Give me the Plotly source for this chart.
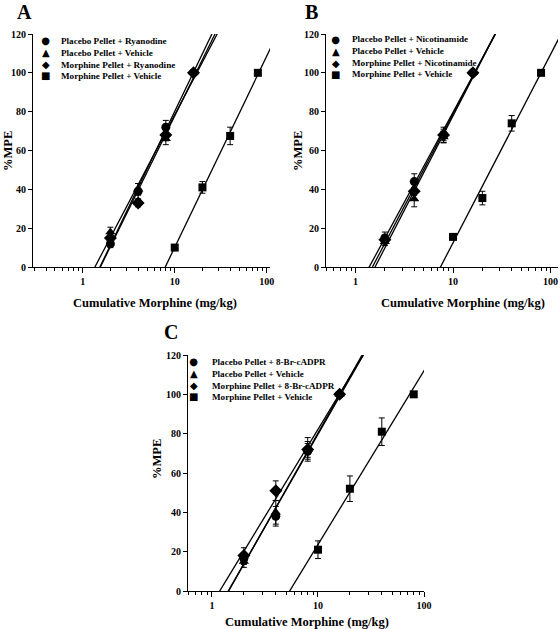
import numpy as np
import plotly.graph_objects as go

W, H = 560, 629

# ---------------- data ----------------
placebo_doses = [2, 4, 8, 16]
morphine_doses = [10, 20, 40, 80]
y_tick_vals = [0, 20, 40, 60, 80, 100, 120]
x_tick_vals = [1, 10, 100]
x_tick_text = ["1", "10", "100"]
minor_x_vals = [m * 10.0 ** e for e in (-1, 0, 1) for m in range(2, 10)]

panel_letters = ["A", "B", "C"]
symbols = ["circle", "triangle-up", "diamond", "square"]
legend_glyphs = ["\u25CF", "\u25B2", "\u25C6", "\u25A0"]

a_names = ["Placebo Pellet + Ryanodine", "Placebo Pellet + Vehicle",
           "Morphine Pellet + Ryanodine", "Morphine Pellet + Vehicle"]
a_pl_drug = [12, 39, 72, 100];  a_pl_drug_err = [2, 4, 3.5, 0]
a_pl_veh = [18, 40, 66, 100];   a_pl_veh_err = [2.5, 3, 3, 0]
a_mo_drug = [15, 33, 68, 100];  a_mo_drug_err = [2, 2, 3, 0]
a_mo_veh = [10, 41, 67.5, 100]; a_mo_veh_err = [1, 3, 4.5, 0]

b_names = ["Placebo Pellet + Nicotinamide", "Placebo Pellet + Vehicle",
           "Morphine Pellet + Nicotinamide", "Morphine Pellet + Vehicle"]
b_pl_drug = [15, 44, 68, 100];  b_pl_drug_err = [3, 4, 4, 0]
b_pl_veh = [13, 35, 67, 100];   b_pl_veh_err = [2, 4, 3, 0]
b_mo_drug = [14, 39, 68, 100];  b_mo_drug_err = [2, 2, 3, 0]
b_mo_veh = [15.5, 35.5, 74, 100]; b_mo_veh_err = [1, 3.5, 4, 0]

c_names = ["Placebo Pellet + 8-Br-cADPR", "Placebo Pellet + Vehicle",
           "Morphine Pellet + 8-Br-cADPR", "Morphine Pellet + Vehicle"]
c_pl_drug = [16.5, 38, 71, 100]; c_pl_drug_err = [3, 5, 4, 0]
c_pl_veh = [15, 40, 72, 100];    c_pl_veh_err = [3, 6, 6, 0]
c_mo_drug = [18, 51, 72, 100];   c_mo_drug_err = [4, 5, 4, 0]
c_mo_veh = [21, 52, 81, 100];    c_mo_veh_err = [4.5, 6.5, 7, 0]

# ---------------- layout geometry (pixels) ----------------
boxes = [(33, 270, 34, 267), (326, 558, 34, 267), (188, 424, 355, 591)]
x_ranges = [[-0.54, 2.035], [-0.303, 2.077], [-0.226, 2.0]]
letter_pos = [(24, 0), (311, 0), (171, 320)]
ytitle_pos = [(8, 151), (298, 151), (157, 459)]
xtitle_pos = [(155, 303), (463, 303), (307, 622)]
legend_sym_x = [45, 335, 193]
legend_txt_x = [60, 351, 211]
legend_mid_y = [58.2, 57.0, 379.2]

panels = [
    (a_names, [(placebo_doses, a_pl_drug, a_pl_drug_err), (placebo_doses, a_pl_veh, a_pl_veh_err),
               (placebo_doses, a_mo_drug, a_mo_drug_err), (morphine_doses, a_mo_veh, a_mo_veh_err)]),
    (b_names, [(placebo_doses, b_pl_drug, b_pl_drug_err), (placebo_doses, b_pl_veh, b_pl_veh_err),
               (placebo_doses, b_mo_drug, b_mo_drug_err), (morphine_doses, b_mo_veh, b_mo_veh_err)]),
    (c_names, [(placebo_doses, c_pl_drug, c_pl_drug_err), (placebo_doses, c_pl_veh, c_pl_veh_err),
               (placebo_doses, c_mo_drug, c_mo_drug_err), (morphine_doses, c_mo_veh, c_mo_veh_err)]),
]

FONT = "Liberation Serif"
LEG_SIZE = 9.1
fig = go.Figure()
annotations = []


def px(x):
    return x / W


def py(y):
    return 1 - y / H


for p, (names, series) in enumerate(panels):
    xa = "x" if p == 0 else f"x{p + 1}"
    ya = "y" if p == 0 else f"y{p + 1}"
    # regression lines (y vs log10 dose)
    for doses, vals, errs in series:
        lx = np.log10(np.array(doses, dtype=float))
        m, b = np.polyfit(lx, np.array(vals, dtype=float), 1)
        ends = 10 ** ((np.array([-2.0, 122.0]) - b) / m)
        fig.add_trace(go.Scatter(x=ends, y=[-2.0, 122.0], mode="lines",
                                 line=dict(color="black", width=1.3),
                                 xaxis=xa, yaxis=ya, showlegend=False, hoverinfo="skip"))
    # markers with error bars
    for k, (doses, vals, errs) in enumerate(series):
        size = {"circle": 9, "triangle-up": 9, "diamond": 10, "square": 8}[symbols[k]]
        fig.add_trace(go.Scatter(x=doses, y=vals, mode="markers", name=names[k],
                                 marker=dict(symbol=symbols[k], size=size, color="black"),
                                 error_y=dict(type="data", array=errs, width=3, thickness=1,
                                              color="black"),
                                 xaxis=xa, yaxis=ya, showlegend=False, cliponaxis=False))
    # legend drawn as text (one block of glyphs, one block of labels)
    glyph_txt = "<br>".join(f"<span style='font-size:10px'>{g}</span>" for g in legend_glyphs)
    annotations.append(dict(x=px(legend_sym_x[p]), y=py(legend_mid_y[p]), xref="paper", yref="paper",
                            text=glyph_txt, showarrow=False, xanchor="center", yanchor="middle",
                            align="center", borderpad=0,
                            font=dict(family="DejaVu Sans", size=LEG_SIZE, color="black")))
    annotations.append(dict(x=px(legend_txt_x[p]), y=py(legend_mid_y[p]), xref="paper", yref="paper",
                            text="<br>".join(names), showarrow=False, xanchor="left", yanchor="middle",
                            align="left", borderpad=0,
                            font=dict(family=FONT, size=LEG_SIZE, color="black", weight="bold")))
    # panel letter
    annotations.append(dict(x=px(letter_pos[p][0]), y=py(letter_pos[p][1]), xref="paper", yref="paper",
                            text=panel_letters[p], showarrow=False, xanchor="center", yanchor="top",
                            borderpad=0,
                            font=dict(family=FONT, size=20, color="black", weight="bold")))
    # axis titles
    annotations.append(dict(x=px(ytitle_pos[p][0]), y=py(ytitle_pos[p][1]), xref="paper", yref="paper",
                            text="%MPE", textangle=-90, showarrow=False, xanchor="center", yanchor="middle",
                            borderpad=0,
                            font=dict(family=FONT, size=12.5, color="black", weight="bold")))
    annotations.append(dict(x=px(xtitle_pos[p][0]), y=py(xtitle_pos[p][1]), xref="paper", yref="paper",
                            text="Cumulative Morphine (mg/kg)", showarrow=False, xanchor="center",
                            yanchor="middle", borderpad=0,
                            font=dict(family=FONT, size=12.5, color="black", weight="bold")))

axis_font = dict(family=FONT, size=10, color="black", weight="bold")
layout_axes = {}
for p in range(3):
    l, r, t, btm = boxes[p]
    xkey = "xaxis" if p == 0 else f"xaxis{p + 1}"
    ykey = "yaxis" if p == 0 else f"yaxis{p + 1}"
    ya = "y" if p == 0 else f"y{p + 1}"
    xa = "x" if p == 0 else f"x{p + 1}"
    layout_axes[xkey] = dict(domain=[px(l), px(r)], anchor=ya, type="log", range=x_ranges[p],
                             tickvals=x_tick_vals, ticktext=x_tick_text, ticks="outside", ticklen=5,
                             tickwidth=1, tickcolor="black", showline=True, linecolor="black",
                             linewidth=1, showgrid=False, zeroline=False, tickfont=axis_font,
                             automargin=False,
                             minor=dict(tickvals=minor_x_vals, ticks="outside", ticklen=3,
                                        tickwidth=1, tickcolor="black", showgrid=False))
    layout_axes[ykey] = dict(domain=[py(btm), py(t)], anchor=xa, range=[0, 120],
                             tickvals=y_tick_vals, ticks="outside", ticklen=4, tickwidth=1,
                             tickcolor="black", showline=True, linecolor="black", linewidth=1,
                             showgrid=False, zeroline=False, tickfont=axis_font, automargin=False)

fig.update_layout(width=W, height=H, margin=dict(l=0, r=0, t=0, b=0),
                  paper_bgcolor="white", plot_bgcolor="white", showlegend=False,
                  annotations=annotations, **layout_axes)

fig.write_html("out.html", config={"displayModeBar": False},
               post_script="document.body.style.margin='0';")
